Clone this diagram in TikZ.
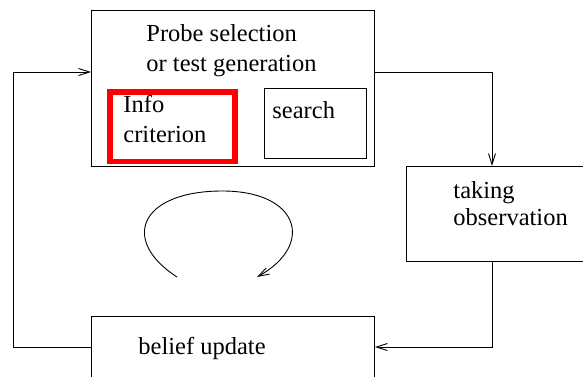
\documentclass[tikz,border=0pt]{standalone}
\usepackage{fontspec}
\setmainfont{Liberation Serif}
\usetikzlibrary{arrows.meta}
\tikzset{
  box/.style={draw, line width=0.9pt, rectangle, inner sep=0pt, anchor=north west},
  redbox/.style={draw=red, line width=5.5pt, rectangle, inner sep=0pt, anchor=north west},
  lbl/.style={inner sep=0pt, anchor=base west, align=left, font=\fontsize{24.5}{29.5}\selectfont},
}
\begin{document}
\begin{tikzpicture}[x=1pt,y=-1pt,>={Straight Barb[length=11pt,width=7pt]}, line width=0.9pt]
                    \useasboundingbox (0,0) rectangle (583,376);
                    \clip (0,0) rectangle (583,376);
                    \node[box, minimum width=283pt, minimum height=156pt] (probe) at (91,10) {};
                    \node[redbox, minimum width=125pt, minimum height=69.5pt] (info) at (107,89) {};
                    \node[box, minimum width=102pt, minimum height=70pt] (search) at (264,88) {};
                    \node[box, minimum width=250pt, minimum height=95pt] (taking) at (406,166) {};
                    \node[box, minimum width=283pt, minimum height=100pt] (belief) at (91,316) {};
                    % base of a two-line node = its last line
                    \node[lbl] (probetxt) at (146,71) {Probe selection\\or test generation};
                    \node[lbl] (infotxt) at (123,142) {Info\\criterion};
                    \node[lbl] (searchtxt) at (272,118) {search};
                    \node[lbl] (takingtxt) at (453,225) {taking\\[-2.5pt]observation};
                    \node[lbl] (belieftxt) at (138,354) {belief update};
                    \coordinate (obsin) at (492,166);
                    \coordinate (obsout) at (492,261);
                    \coordinate (loopa) at (177,277);
                    \coordinate (looptop) at (220,191);
                    \coordinate (loopb) at (257,277);
                    \draw[->] (probe.east |- 0,72) -| (obsin);
                    \draw[->] (obsout) |- (belief.east |- 0,347);
                    \draw[->] (belief.west |- 0,347) -- (13,347) |- (probe.west |- 0,72);
                    \draw[->] (loopa) .. controls (120,240) and (140,192) .. (looptop) .. controls (300,190) and (315,245) .. (loopb);
\end{tikzpicture}
\end{document}
